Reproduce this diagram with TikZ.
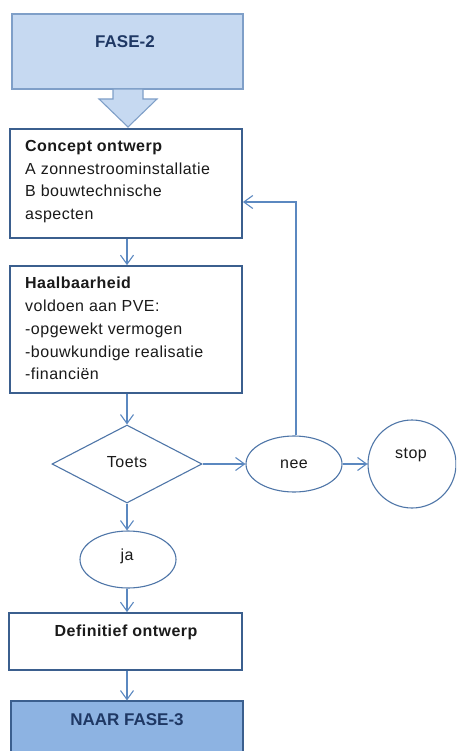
\documentclass[tikz,border=0pt]{standalone}
\usepackage{fontspec}
\setmainfont{Liberation Sans}
\usetikzlibrary{shapes.geometric,arrows.meta}
\definecolor{lightfill}{HTML}{C6D9F1}
\definecolor{lightedge}{HTML}{7F9FC8}
\definecolor{darkfill}{HTML}{8DB3E2}
\definecolor{boxedge}{HTML}{3B5F8E}
\definecolor{linkcol}{HTML}{5B88C0}
\definecolor{shapeedge}{HTML}{4F76A8}
\definecolor{navytext}{HTML}{1F3864}
\definecolor{bodytext}{HTML}{1A1A1A}
\newcommand{\bodyfont}{\fontsize{16pt}{22.8pt}\selectfont\addfontfeatures{LetterSpace=3}}
\tikzset{
  stepbox/.style={draw=boxedge, line width=1.8pt, fill=white, rectangle, inner sep=0pt},
  boxtext/.style={anchor=north west, align=left, inner sep=0pt, text=bodytext, font=\bodyfont},
  flowshape/.style={draw=shapeedge, line width=1.1pt, fill=white, inner sep=0pt, text=bodytext, font=\bodyfont},
  plaintext/.style={inner sep=0pt, text=bodytext, font=\bodyfont},
  link/.style={draw=linkcol, line width=1.1pt, -{Straight Barb[length=9pt,width=13pt,line width=1.1pt]}},
  phasetext/.style={inner sep=0pt, text=navytext, font=\fontsize{17pt}{20pt}\selectfont\bfseries},
}
\begin{document}
\begin{tikzpicture}[x=1pt,y=-1pt]
\useasboundingbox (0,0) rectangle (456,751);
\clip (0,0) rectangle (456,751);

% phase 2 header with block arrow
\node[draw=lightedge, line width=1.1pt, fill=lightfill, minimum width=231pt, minimum height=75pt, inner sep=0pt]
  (fase2) at (127.5,51.5) {};
\node[phasetext] (fase2t) at (125,42) {FASE-2};
\filldraw[draw=lightedge, line width=1.1pt, fill=lightfill]
  (113,89) -- (143,89) -- (143,99) -- (157,99) -- (128,127) -- (99,99) -- (113,99) -- cycle;

% concept design
\node[stepbox, minimum width=232pt, minimum height=109pt] (concept) at (126,183.5) {};
\node[boxtext] (conceptt) at (25,140) {\textbf{Concept ontwerp}\\A zonnestroominstallatie\\B bouwtechnische\\aspecten};

% feasibility
\node[stepbox, minimum width=232pt, minimum height=127pt] (haal) at (126,329.5) {};
\node[boxtext] (haalt) at (25,277) {\textbf{Haalbaarheid}\\voldoen aan PVE:\\-opgewekt vermogen\\-bouwkundige realisatie\\-financiën};

% decision and outcomes
\node[flowshape, diamond, minimum width=150pt, minimum height=78pt] (toets) at (127,464) {};
\node[plaintext] (toetst) at (127,462) {Toets};
\node[flowshape, ellipse, minimum width=96pt, minimum height=56pt] (nee) at (294,464) {nee};
\node[flowshape, circle, minimum size=88pt] (stop) at (412,464) {};
\node[plaintext] (stopt) at (411,455) {stop};
\node[flowshape, ellipse, minimum width=96pt, minimum height=57pt] (ja) at (128,559.5) {};
\node[plaintext] (jat) at (127,556) {ja};

% final design and phase 3
\node[stepbox, minimum width=233pt, minimum height=57pt] (def) at (125.5,641.5) {};
\node[plaintext, font=\bodyfont\bfseries] (deft) at (126,632) {Definitief ontwerp};
\node[draw=boxedge, line width=1.1pt, fill=darkfill, minimum width=232pt, minimum height=60pt, inner sep=0pt]
  (naar) at (127,731) {};
\node[phasetext] (naart) at (127,720) {NAAR FASE-3};

% connectors, all on the main column
\coordinate (col) at (127,0);
\coordinate (back) at (296,202);
\draw[link] (concept.south -| col) -- (haal.north -| col);
\draw[link] (haal.south -| col) -- (toets.north);
\draw[link] (toets.east) -- (nee.west);
\draw[link] (nee.east) -- (stop.west);
\draw[link] (nee.north -| back) -- (back) -- (back -| concept.east);
\draw[link] (toets.south) -- (ja.north -| col);
\draw[link] (ja.south -| col) -- (def.north -| col);
\draw[link] (def.south -| col) -- (naar.north -| col);
\end{tikzpicture}
\end{document}
